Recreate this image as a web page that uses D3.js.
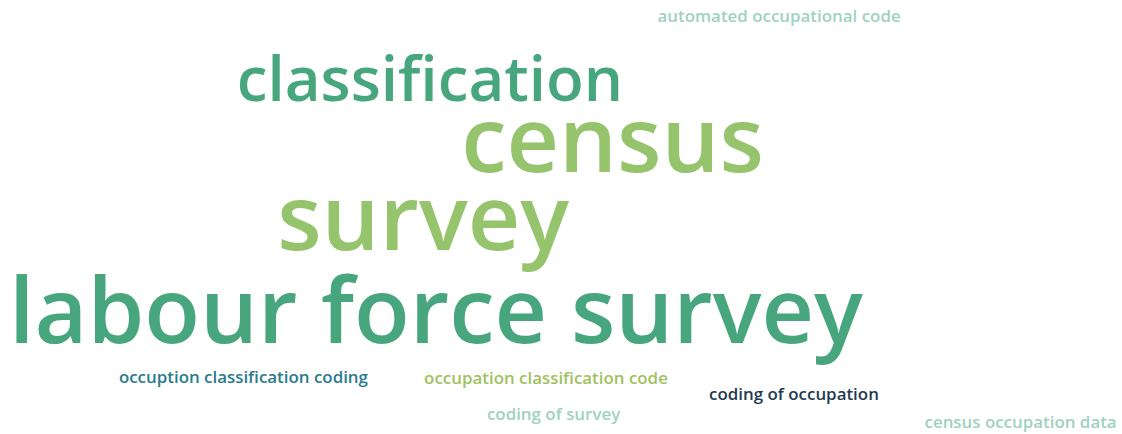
<!DOCTYPE html>
<html>
<head>
<meta charset="utf-8">
<script src="https://cdn.jsdelivr.net/npm/d3@7"></script>
<style>
  html, body { margin: 0; padding: 0; background: #fff; }
  text { font-family: "Open Sans", sans-serif; font-weight: 600; }
</style>
</head>
<body>
<div id="cloud"></div>
<script>
// Define Default constants
const config = {
  width  : 1122,
  height : 434,
};

// word cloud data
const words = [
  "automated occupational code",
  "classification",
  "census",
  "survey",
  "labour force survey",
  "occuption classification coding",
  "occupation classification code",
  "coding of occupation",
  "coding of survey",
  "census occupation data"
];
const weights = [5, 18.9, 28, 28, 28, 5, 5, 5, 5, 5];
const groups  = ["light", "mid", "lime", "lime", "mid", "teal", "olive", "dark", "light", "light"];
// layout result (left edge / baseline, in % of the canvas)
const anchorX = [58.6, 21.1, 41.1, 24.7, 0.8, 10.6, 37.8, 63.2, 43.4, 82.4];
const anchorY = [5.1, 23.3, 39.6, 57.6, 79.0, 88.2, 88.5, 92.2, 96.8, 98.6];

const color = d3.scaleOrdinal()
  .domain(["light", "mid", "lime", "teal", "olive", "dark"])
  .range(["#9fd1c1", "#48a67f", "#95c46d", "#2a7b8c", "#9fc25f", "#1f3a4f"]);

const fontSize = d3.scaleLinear().domain([5, 28]).range([16.9, 91.3]);
const x = d3.scaleLinear().domain([0, 100]).range([0, config.width]);
const y = d3.scaleLinear().domain([0, 100]).range([0, config.height]);

const svg = d3.select("#cloud")
  .append("svg")
    .attr("width", config.width)
    .attr("height", config.height);

svg.selectAll(".word")
  .data(words)
  .enter()
    .append("text")
    .attr("class", "word")
    .attr("x", (d, i) => x(anchorX[i]))
    .attr("y", (d, i) => y(anchorY[i]))
    .style("font-size", (d, i) => fontSize(weights[i]) + "px")
    .style("fill", (d, i) => color(groups[i]))
    .text(d => d);
</script>
</body>
</html>
